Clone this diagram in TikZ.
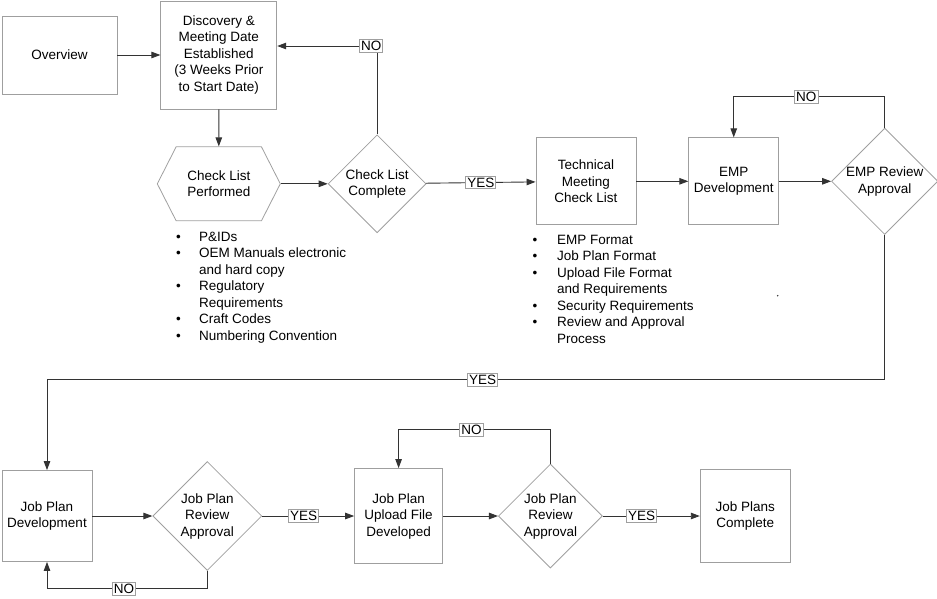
\documentclass[tikz,border=0pt]{standalone}
\usepackage{fontspec}
\setmainfont{Liberation Sans}
\usetikzlibrary{arrows.meta, positioning, shapes.geometric, shapes.symbols}

\begin{document}
\begin{tikzpicture}[x=1pt, y=-1pt, >={Triangle[length=9pt, width=6.5pt]},
  every node/.style={font=\fontsize{13.5}{16.5}\selectfont, align=center},
  box/.style={draw=gray!75, line width=0.8pt, inner sep=2pt},
  dec/.style={draw=gray!75, line width=0.8pt, diamond, aspect=1, inner sep=0pt},
  hexa/.style={draw=gray!75, line width=0.8pt, signal, signal to=west and east,
    signal pointer angle=126, minimum width=123pt, minimum height=74pt, inner sep=0pt},
  lbl/.style={draw=gray!75, fill=white, line width=0.7pt, inner sep=1.5pt},
  conn/.style={->, draw=black!80, line width=0.9pt},
  lst/.style={anchor=north west, inner sep=0pt, align=left}]

  \useasboundingbox (0,0) rectangle (937,598);

  % Nodes
  \node (OV) [box, minimum width=115pt, minimum height=78pt] at (59.5,55) {Overview};
  \node (DIS) [box, minimum width=116pt, minimum height=108pt, right=43pt of OV]
    {Discovery \&\\Meeting Date\\Established\\(3 Weeks Prior\\to Start Date)};
  \node (HEX) [hexa, below=37pt of DIS] {Check List\\Performed};
  \node (CLC) [dec, minimum size=98pt, right=47pt of HEX] {Check List\\Complete};
  \node (TMC) [box, minimum width=100pt, minimum height=87pt, right=109pt of CLC,
    yshift=2.5pt] {Technical\\Meeting\\Check List};
  \node (EMP) [box, minimum width=90pt, minimum height=87pt, right=52pt of TMC]
    {EMP\\Development};
  \node (ERA) [dec, minimum size=105pt, right=52pt of EMP] {EMP Review\\Approval};

  \node (JPD) [box, minimum width=90pt, minimum height=91pt] at (47,516)
    {Job Plan\\Development};
  \node (D1) [dec, minimum size=109pt, right=60pt of JPD] {Job Plan\\Review\\Approval};
  \node (JPU) [box, minimum width=88pt, minimum height=95pt, right=92pt of D1]
    {Job Plan\\Upload File\\Developed};
  \node (D2) [dec, minimum size=104pt, right=55pt of JPU] {Job Plan\\Review\\Approval};
  \node (JPC) [box, minimum width=90pt, minimum height=93pt, right=97pt of D2]
    {Job Plans\\Complete};

  % Lists
  \node (L1) [lst] at (176,229.5) {\begin{tabular}{@{}p{23pt}@{}l@{}}
    \textbullet & P\&IDs\\
    \textbullet & OEM Manuals electronic\\
                & and hard copy\\
    \textbullet & Regulatory\\
                & Requirements\\
    \textbullet & Craft Codes\\
    \textbullet & Numbering Convention
  \end{tabular}};
  \node (L2) [lst] at (532.5,232.5) {\begin{tabular}{@{}p{24.5pt}@{}l@{}}
    \textbullet & EMP Format\\
    \textbullet & Job Plan Format\\
    \textbullet & Upload File Format\\
                & and Requirements\\
    \textbullet & Security Requirements\\
    \textbullet & Review and Approval\\
                & Process
  \end{tabular}};
  \fill[black!80] (777.7,295.7) circle (0.8pt);

  % Edges
  \draw[conn] (OV) -- (DIS);
  \draw[conn] (DIS) -- (HEX);
  \draw[conn] (HEX) -- (CLC);
  \draw[conn] (CLC.north) |- node[lbl, pos=0.53] {NO} ([yshift=9pt]DIS.east);
  \draw[conn] (CLC) -- node[lbl] {YES} (TMC);
  \draw[conn] (TMC) -- (EMP);
  \draw[conn] (EMP) -- (ERA);
  \draw[conn] (ERA.north) -- ++(0,-31) -| node[lbl, pos=0.26] {NO} (EMP.north);
  \draw[conn] (ERA.south) -- ++(0,145) -| node[lbl, pos=0.24] {YES} (JPD.north);
  \draw[conn] (JPD) -- (D1);
  \draw[conn] (D1.south) -- ++(0,18) -| node[lbl, pos=0.26] {NO} (JPD.south);
  \draw[conn] (D1) -- node[lbl, pos=0.45] {YES} (JPU);
  \draw[conn] (JPU) -- (D2);
  \draw[conn] (D2.north) -- ++(0,-34) -| node[lbl, pos=0.26] {NO} (JPU.north);
  \draw[conn] (D2) -- node[lbl, pos=0.4] {YES} (JPC);

\end{tikzpicture}
\end{document}
